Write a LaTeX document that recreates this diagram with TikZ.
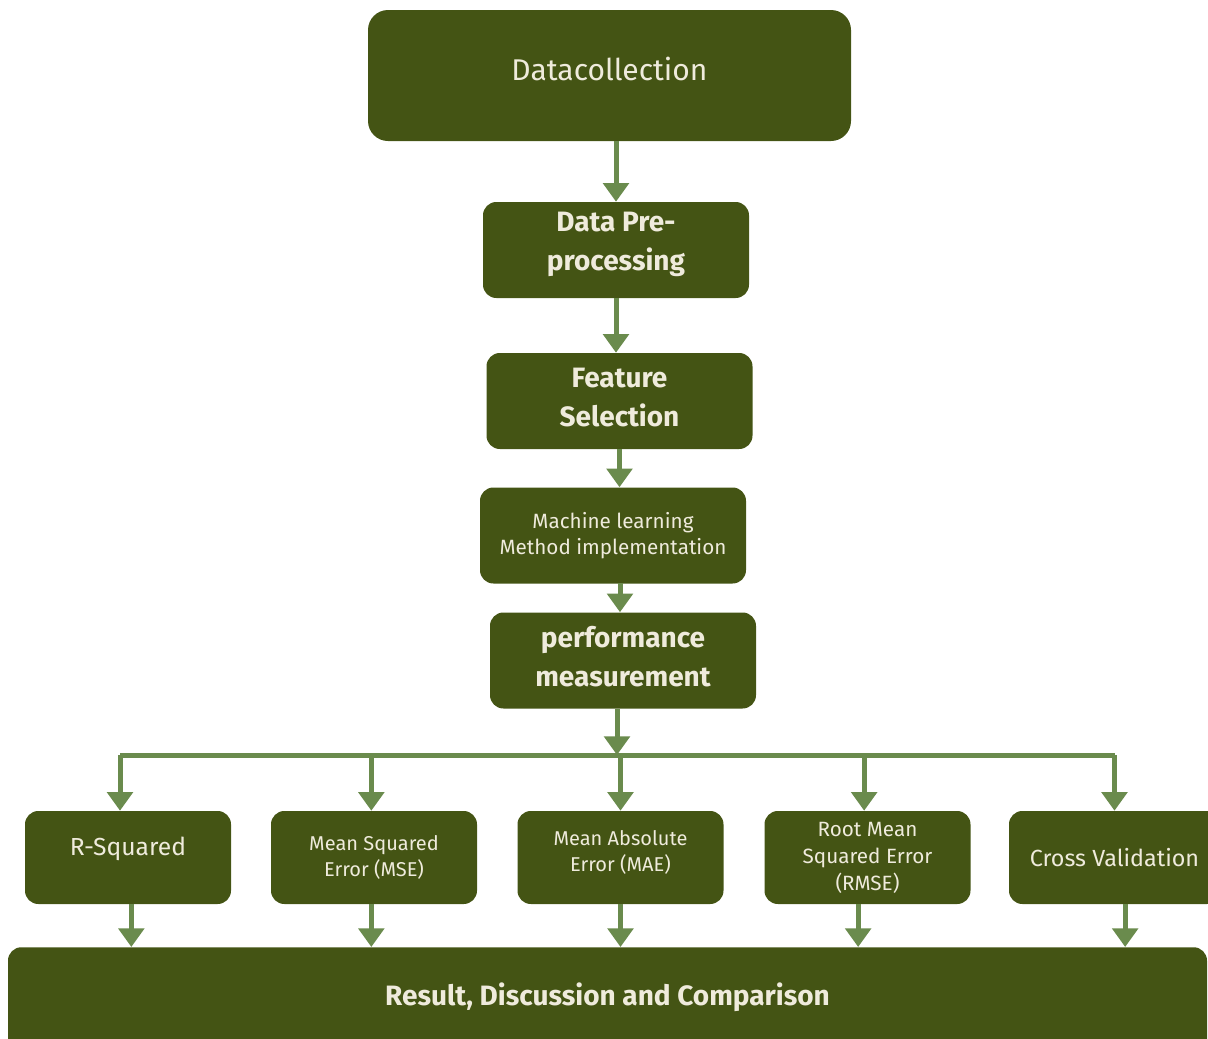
\documentclass[tikz,border=0pt]{standalone}
\usepackage{fontspec}
\setmainfont{Fira Sans}
\usetikzlibrary{arrows.meta}
\definecolor{boxgreen}{HTML}{445414}
\definecolor{arrowgreen}{HTML}{6A8B4D}
\definecolor{boxtext}{HTML}{EFEBDC}
\begin{document}
\begin{tikzpicture}[x=0.75pt, y=-0.75pt,
  box/.style={rectangle, rounded corners=10pt, fill=boxgreen, text=boxtext, align=center,
    minimum width=199.5pt, minimum height=72pt, inner sep=2pt},
  bigtitle/.style={font=\fontsize{22.5}{27}\selectfont},
  boldtitle/.style={font=\fontsize{21}{29}\selectfont\bfseries},
  smalltitle/.style={font=\fontsize{15.5}{20}\selectfont},
  metric/.style={box, minimum width=154.5pt, minimum height=69.75pt, font=\fontsize{15}{19.8}\selectfont},
  flow/.style={draw=arrowgreen, line width=3.75pt, -{Triangle[width=19pt, length=14pt]}},
  link/.style={draw=arrowgreen, line width=3.75pt}]
\useasboundingbox (0,0) rectangle (1208,1039);
\node [box, bigtitle, rounded corners=15pt, minimum width=362.25pt, minimum height=98.25pt] (dc) at (609.5,75.5) {\raisebox{10.5pt}{Datacollection}};
\node [box, boldtitle] (pre) at (616,250) {\raisebox{5.25pt}[\height][\depth]{\begin{tabular}{@{}c@{}}Data Pre-\\processing\end{tabular}}};
\node [box, boldtitle] (fs) at (619.5,401) {\raisebox{1.5pt}[\height][\depth]{\begin{tabular}{@{}c@{}}Feature\\Selection\end{tabular}}};
\node [box, smalltitle] (ml) at (613,535.5) {Machine learning\\Method implementation};
\node [box, boldtitle] (perf) at (623,660.5) {\raisebox{0.75pt}[\height][\depth]{\begin{tabular}{@{}c@{}}performance\\measurement\end{tabular}}};
\coordinate (bus) at (617,755);
\node [metric, font=\fontsize{18.5}{22}\selectfont] (rsq) at (128,857.5) {\raisebox{17pt}{R-Squared}};
\node [metric] (mse) at (374,857.5) {Mean Squared\\Error (MSE)};
\node [metric] (mae) at (620.5,857.5) {\raisebox{3pt}[\height][\depth]{\begin{tabular}{@{}c@{}}Mean Absolute\\Error (MAE)\end{tabular}}};
\node [metric, font=\fontsize{15.5}{20.25}\selectfont] (rmse) at (867.5,857.5) {Root Mean\\Squared Error\\(RMSE)};
\node [metric, minimum width=158.25pt, font=\fontsize{17.5}{21}\selectfont] (cv) at (1114.5,857.5) {Cross Validation};
\node [box, boldtitle, anchor=north, minimum width=899.25pt, minimum height=85pt] (res) at (607.5,947) {\raisebox{14pt}{Result, Discussion and Comparison}};
\draw [flow] (pre.north |- dc.south) -- (pre.north);
\draw [flow] (pre.south) -- (pre.south |- fs.north);
\draw [flow] (fs.south) -- (fs.south |- ml.north);
\draw [flow] (perf.north -| 620,0) ++(0,-29) -- (perf.north -| 620,0);
\draw [flow] (perf.south -| bus) -- (bus);
\draw [link] ([xshift=-6pt]rsq.north |- bus) -- (bus -| cv.north);
\draw [flow] ([xshift=-6pt]rsq.north |- bus) -- ([xshift=-6pt]rsq.north);
\draw [flow] ([xshift=-2pt]mse.north |- bus) -- ([xshift=-2pt]mse.north);
\draw [flow] (bus -| mae.north) -- (mae.north);
\draw [flow] ([xshift=-2.5pt]rmse.north |- bus) -- ([xshift=-2.5pt]rmse.north);
\draw [flow] (bus -| cv.north) -- (cv.north);
\draw [flow] ([xshift=2.5pt]rsq.south) -- ([xshift=2.5pt]rsq.south |- res.north);
\draw [flow] ([xshift=-2pt]mse.south) -- ([xshift=-2pt]mse.south |- res.north);
\draw [flow] (mae.south) -- (mae.south |- res.north);
\draw [flow] ([xshift=-7pt]rmse.south) -- ([xshift=-7pt]rmse.south |- res.north);
\draw [flow] ([xshift=8pt]cv.south) -- ([xshift=8pt]cv.south |- res.north);
\end{tikzpicture}
\end{document}
